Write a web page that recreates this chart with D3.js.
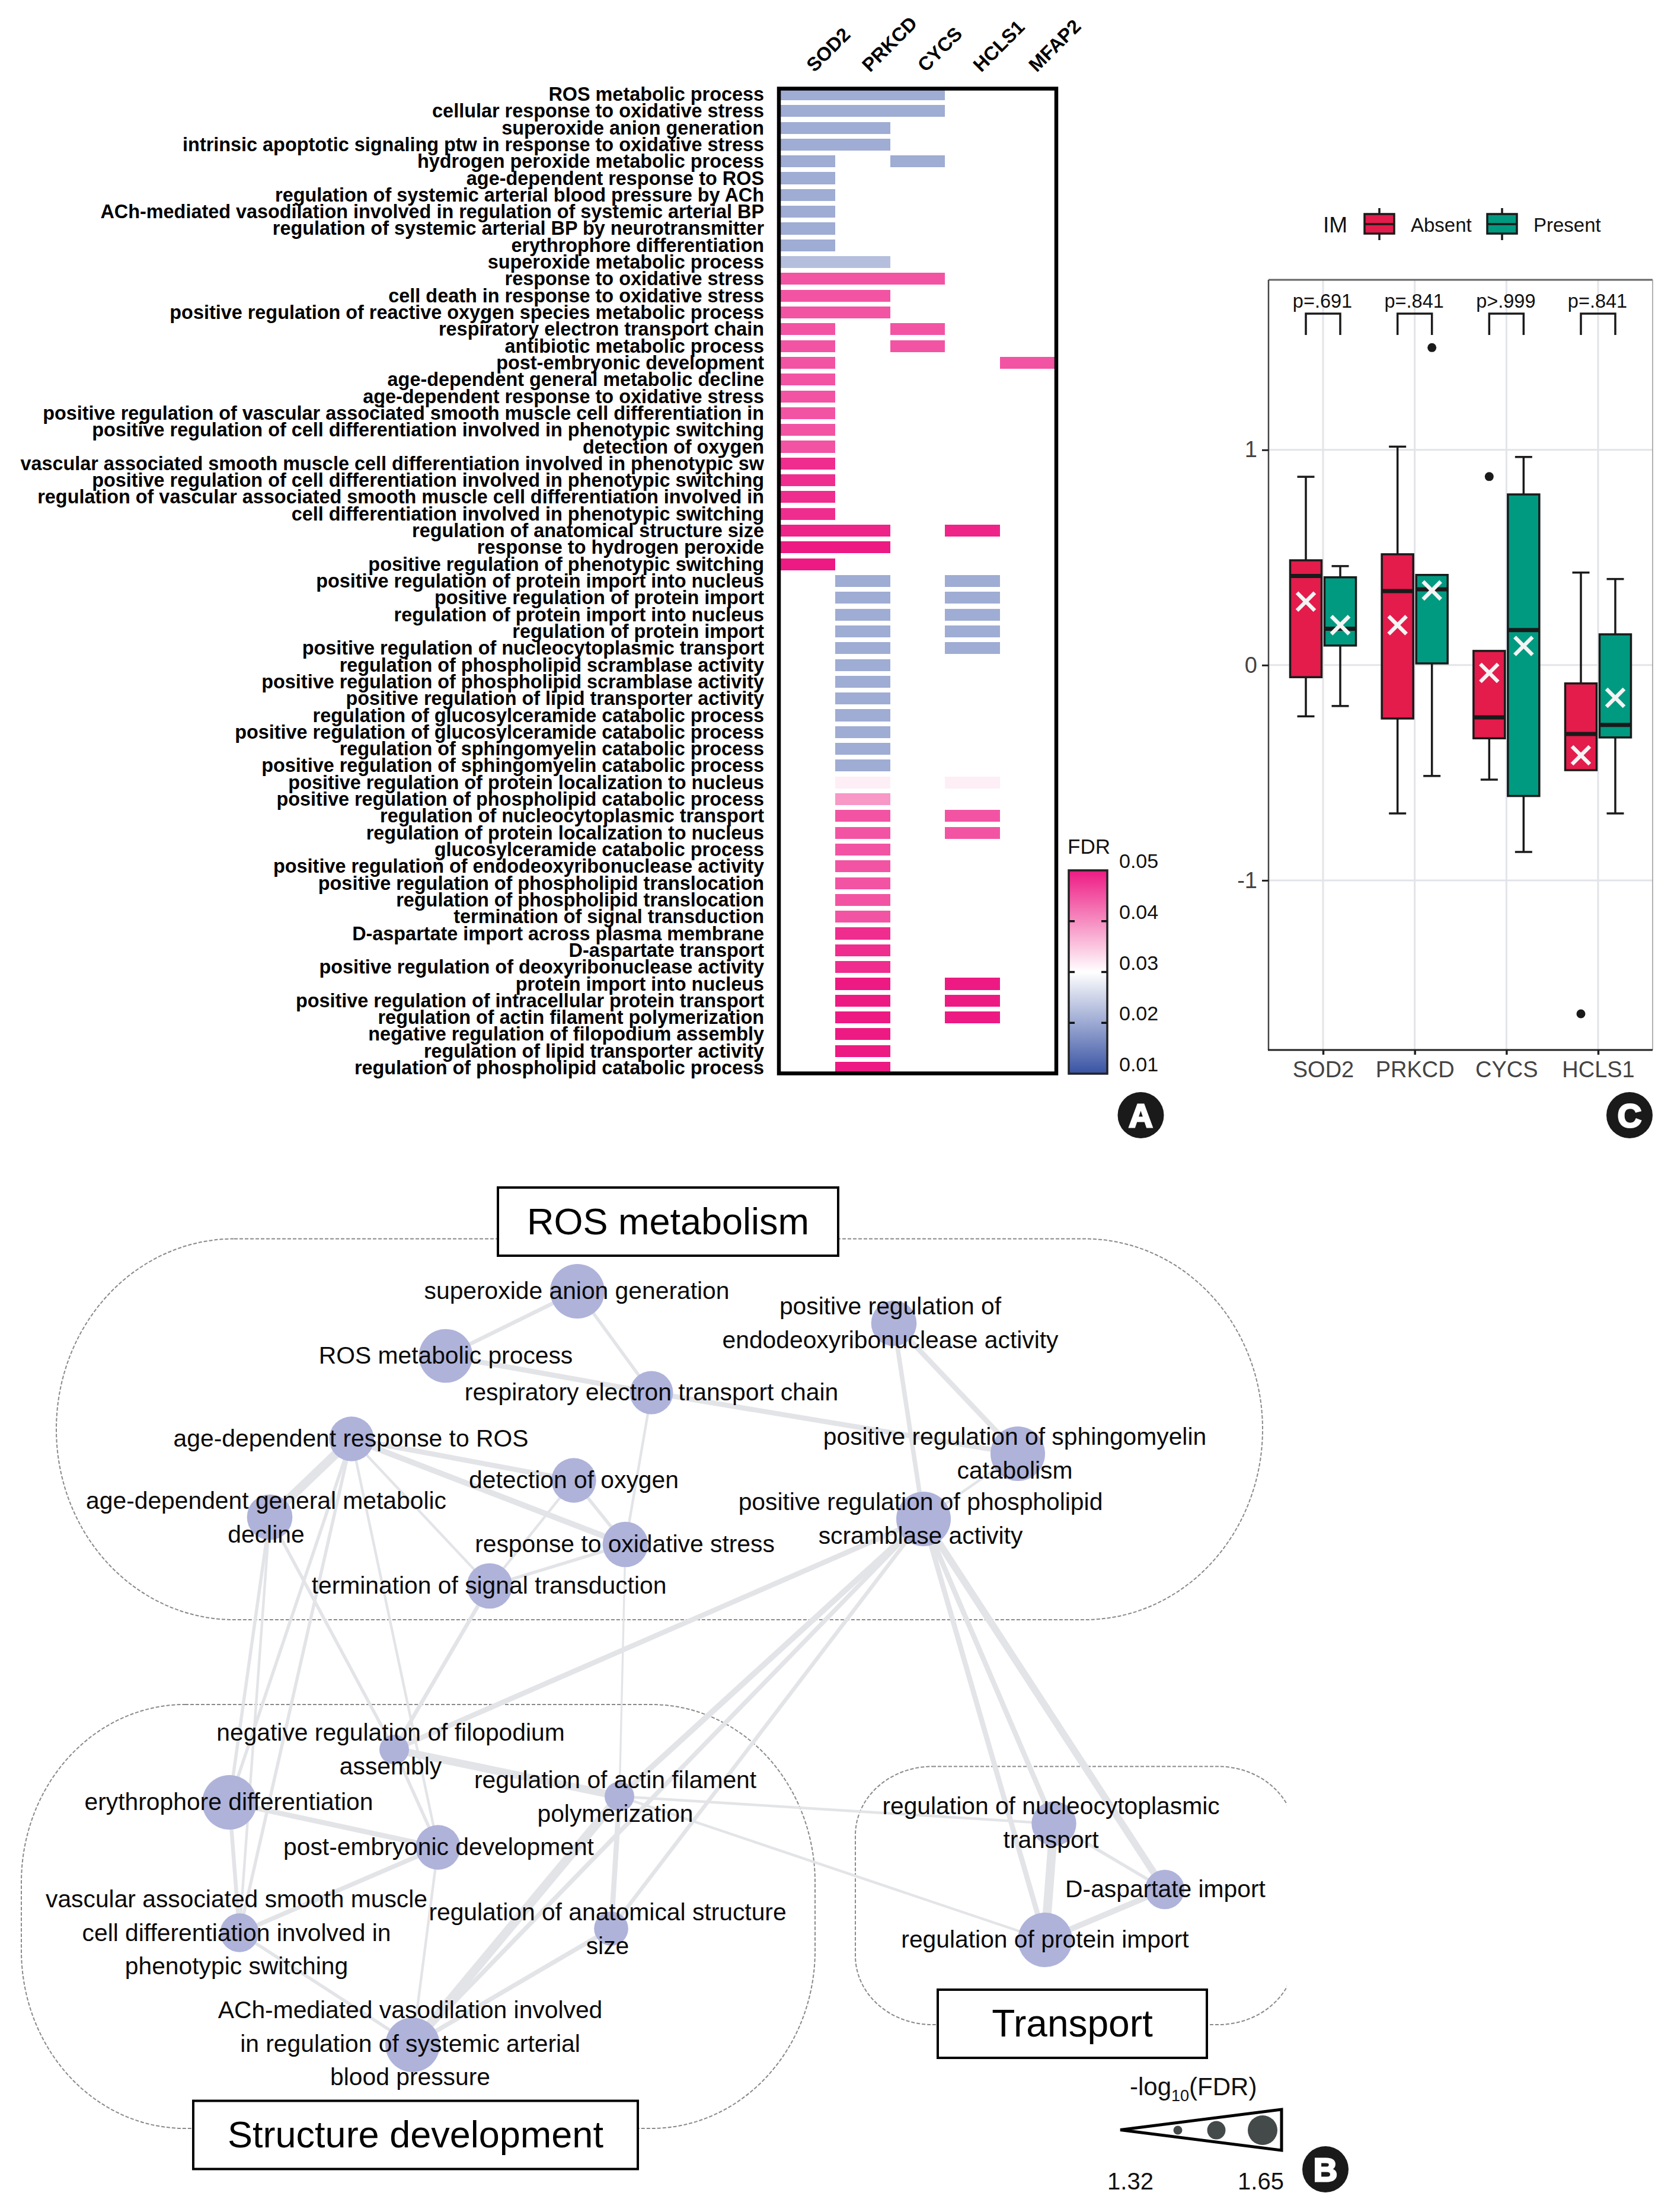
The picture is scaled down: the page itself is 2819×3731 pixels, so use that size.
<!DOCTYPE html>
<html><head><meta charset="utf-8">
<style>html,body{margin:0;padding:0;background:#fff}svg{display:block}text{font-family:"Liberation Sans",Arial,sans-serif}</style>
<script src="https://cdn.jsdelivr.net/npm/d3@7/dist/d3.min.js"></script>
</head><body><svg id="c" width="2819" height="3731" viewBox="0 0 2819 3731"></svg>
<script>
// ---------- Panel A data ----------
const genes = ["SOD2","PRKCD","CYCS","HCLS1","MFAP2"];
const terms = [
"ROS metabolic process","cellular response to oxidative stress","superoxide anion generation",
"intrinsic apoptotic signaling ptw in response to oxidative stress","hydrogen peroxide metabolic process",
"age-dependent response to ROS","regulation of systemic arterial blood pressure by ACh",
"ACh-mediated vasodilation involved in regulation of systemic arterial BP",
"regulation of systemic arterial BP by neurotransmitter","erythrophore differentiation",
"superoxide metabolic process","response to oxidative stress","cell death in response to oxidative stress",
"positive regulation of reactive oxygen species metabolic process","respiratory electron transport chain",
"antibiotic metabolic process","post-embryonic development","age-dependent general metabolic decline",
"age-dependent response to oxidative stress","positive regulation of vascular associated smooth muscle cell differentiation in",
"positive regulation of cell differentiation involved in phenotypic switching","detection of oxygen",
"vascular associated smooth muscle cell differentiation involved in phenotypic sw",
"positive regulation of cell differentiation involved in phenotypic switching",
"regulation of vascular associated smooth muscle cell differentiation involved in",
"cell differentiation involved in phenotypic switching","regulation of anatomical structure size",
"response to hydrogen peroxide","positive regulation of phenotypic switching",
"positive regulation of protein import into nucleus","positive regulation of protein import",
"regulation of protein import into nucleus","regulation of protein import",
"positive regulation of nucleocytoplasmic transport","regulation of phospholipid scramblase activity",
"positive regulation of phospholipid scramblase activity","positive regulation of lipid transporter activity",
"regulation of glucosylceramide catabolic process","positive regulation of glucosylceramide catabolic process",
"regulation of sphingomyelin catabolic process","positive regulation of sphingomyelin catabolic process",
"positive regulation of protein localization to nucleus","positive regulation of phospholipid catabolic process",
"regulation of nucleocytoplasmic transport","regulation of protein localization to nucleus",
"glucosylceramide catabolic process","positive regulation of endodeoxyribonuclease activity",
"positive regulation of phospholipid translocation","regulation of phospholipid translocation",
"termination of signal transduction","D-aspartate import across plasma membrane","D-aspartate transport",
"positive regulation of deoxyribonuclease activity","protein import into nucleus",
"positive regulation of intracellular protein transport","regulation of actin filament polymerization",
"negative regulation of filopodium assembly","regulation of lipid transporter activity",
"regulation of phospholipid catabolic process"];
const termFDR = [
.0203,.0203,.0203,.0203,.0203,.0203,.0203,.0203,.0203,.0203,.0225,
.0449,.0449,.0449,.0449,.0449,.0449,.0449,.0449,.0449,.0449,.0449,
.0483,.0483,.0483,.0483,.0491,.05,.05,
.0203,.0203,.0203,.0203,.0203,.0203,.0203,.0203,.0203,.0203,.0203,.0203,
.0315,.039,.0449,.0449,.0449,.0449,.0449,.0449,.0449,.0483,.0483,.0483,
.05,.05,.05,.05,.05,.05];
const termGeneCols = [
"SPC","SPC","SP","SP","SC","S","S","S","S","S","SP",
"SPC","SP","SP","SC","SC","SM","S","S","S","S","S","S","S","S","S","SPH","SP","S",
"PH","PH","PH","PH","PH","P","P","P","P","P","P","P",
"PH","P","PH","PH","P","P","P","P","P","P","P","P",
"PH","PH","PH","P","P","P"];
const geneCode = {S:"SOD2",P:"PRKCD",C:"CYCS",H:"HCLS1",M:"MFAP2"};
const fdrTicks = [0.05,0.04,0.03,0.02,0.01];

// ---------- Panel C data ----------
const boxGenes = ["SOD2","PRKCD","CYCS","HCLS1"];
const boxGroups = ["Absent","Present"];
const pLabels = ["p=.691","p=.841","p>.999","p=.841"];
const whiskerHigh = [[.875,.46],[1.015,.419],[.066,.967],[.43,.40]];
const q3Values = [[.487,.408],[.515,.419],[.066,.793],[-.085,.143]];
const medianValues = [[.414,.169],[.344,.352],[-.243,.163],[-.32,-.278]];
const meanValues = [[.295,.186],[.186,.347],[-.036,.089],[-.419,-.152]];
const q1Values = [[-.056,.091],[-.248,.008],[-.34,-.608],[-.488,-.336]];
const whiskerLow = [[-.238,-.19],[-.689,-.515],[-.532,-.868],[-.488,-.689]];
const outliers = [["PRKCD","Present",1.475],["CYCS","Absent",.876],["HCLS1","Absent",-1.62]];
const boxTicks = [-1,0,1];

// ---------- Panel B data ----------
const nodeNames = ["superoxide","ros","resp","ageros","detect","agegen","respox","term","endo","sphingo","scram",
"filo","eryth","actin","postemb","vasc","anat","ach","nucleo","dasp","protimp"];
const nodeLog = [1.65,1.64,1.5,1.52,1.52,1.53,1.53,1.53,1.53,1.65,1.65,1.32,1.65,1.32,1.52,1.44,1.38,1.65,1.52,1.45,1.65];
const edgeList = [
["superoxide","ros",6],["superoxide","resp",5],["ros","resp",8],["resp","sphingo",8],["resp","respox",4],["respox","actin",3],
["ageros","detect",8],["ageros","respox",9],["ageros","agegen",14],["ageros","term",4],["ageros","eryth",5],["ageros","vasc",5],["ageros","postemb",4],
["agegen","filo",5],["agegen","eryth",5],["agegen","vasc",4],["term","filo",6],["scram","filo",8],
["detect","respox",5],["detect","term",4],["respox","term",5],["endo","sphingo",8],["endo","scram",7],["sphingo","scram",4],
["scram","actin",9],["scram","ach",7],["scram","anat",6],["scram","protimp",8],["scram","nucleo",8],["scram","dasp",11],
["nucleo","protimp",14],["nucleo","dasp",5],["dasp","protimp",9],["actin","nucleo",4],["actin","protimp",4],["actin","ach",14],
["anat","ach",7],["anat","actin",8],["filo","actin",12],["filo","postemb",5],["eryth","postemb",8],["eryth","vasc",6],
["postemb","vasc",7],["postemb","ach",4],["vasc","ach",5]];
const nodeLabels = {
superoxide:["superoxide anion generation"],ros:["ROS metabolic process"],resp:["respiratory electron transport chain"],
ageros:["age-dependent response to ROS"],detect:["detection of oxygen"],agegen:["age-dependent general metabolic","decline"],
respox:["response to oxidative stress"],term:["termination of signal transduction"],
endo:["positive regulation of","endodeoxyribonuclease activity"],sphingo:["positive regulation of sphingomyelin","catabolism"],
scram:["positive regulation of phospholipid","scramblase activity"],filo:["negative regulation of filopodium","assembly"],
eryth:["erythrophore differentiation"],actin:["regulation of actin filament","polymerization"],postemb:["post-embryonic development"],
vasc:["vascular associated smooth muscle","cell differentiation involved in","phenotypic switching"],
anat:["regulation of anatomical structure","size"],ach:["ACh-mediated vasodilation involved","in regulation of systemic arterial","blood pressure"],
nucleo:["regulation of nucleocytoplasmic","transport"],dasp:["D-aspartate import"],protimp:["regulation of protein import"]};
const clusterTitles = ["ROS metabolism","Structure development","Transport"];
const sizeLegendValues = [1.32,1.47,1.65];

// ---------- Layout (not data) ----------
const nodeLayout = {superoxide:[974,2178],ros:[752,2287],resp:[1099,2349],ageros:[593,2427],detect:[968,2497],agegen:[455,2559],
respox:[1055,2605],term:[826,2675],endo:[1508,2232],sphingo:[1717,2452],scram:[1558,2562],filo:[665,2951],eryth:[387,3040],
actin:[1045,3030],postemb:[739,3116],vasc:[404,3260],anat:[1031,3253],ach:[696,3449],nucleo:[1778,3076],dasp:[1965,3187],protimp:[1763,3272]};
const labelLayout = {superoxide:[973,2177],ros:[752,2286],resp:[1099,2348],ageros:[592,2426],detect:[968,2496],agegen:[449,2531],
respox:[1054,2604],term:[825,2674],endo:[1502,2203],sphingo:[1712,2423],scram:[1553,2533],filo:[659,2922],eryth:[386,3039],
actin:[1038,3002],postemb:[740,3115],vasc:[399,3203],anat:[1025,3225],ach:[692,3390],nucleo:[1773,3046],dasp:[1966,3186],protimp:[1763,3271]};

const svg = d3.select("#c");
const FONT_A = 32.4, BLACK = "#000";

// ---------- Panel A ----------
const gA = svg.append("g");
const xA = d3.scaleBand().domain(genes).range([1317,1779]);
const xGeneLabel = d3.scalePoint().domain(genes).range([1374,1749]);
const yA = d3.scaleBand().domain(d3.range(terms.length)).range([144.8,1815.2]).paddingInner(0.29).paddingOuter(0.145);
const fdrColor = d3.scaleLinear().domain([.01,.03,.05]).range(["#3953a4","#ffffff","#ed1a83"]);

const cells = terms.flatMap((t,i)=>termGeneCols[i].split("").map(c=>({row:i,gene:geneCode[c],fdr:termFDR[i]})));
gA.selectAll("rect.cell").data(cells).join("rect").attr("class","cell")
  .attr("x",d=>xA(d.gene)).attr("width",xA.bandwidth()).attr("y",d=>yA(d.row)).attr("height",yA.bandwidth())
  .attr("fill",d=>fdrColor(d.fdr)).attr("shape-rendering","crispEdges");
gA.append("rect").attr("x",1314).attr("y",149.5).attr("width",468).attr("height",1661).attr("fill","none").attr("stroke",BLACK).attr("stroke-width",6.5);
gA.selectAll("text.term").data(terms).join("text").attr("class","term")
  .attr("x",1289).attr("y",(d,i)=>yA(i)+yA.bandwidth()/2).attr("dy",".34em").attr("text-anchor","end")
  .attr("font-size",FONT_A).attr("font-weight",700).attr("fill",BLACK).text(d=>d);
gA.selectAll("text.gene").data(genes).join("text").attr("class","gene")
  .attr("transform",d=>`translate(${xGeneLabel(d)},123) rotate(-45)`)
  .attr("font-size",32.5).attr("font-weight",700).attr("fill",BLACK).text(d=>d);

// colour bar
const yBar = d3.scaleLinear().domain([.05,.01]).range([1468,1811]);
const defs = svg.append("defs");
const grad = defs.append("linearGradient").attr("id","fdrGrad").attr("x1",0).attr("x2",0).attr("y1",0).attr("y2",1);
[.05,.04,.03,.02,.01].forEach(v=>grad.append("stop").attr("offset",(yBar(v)-1468)/343).attr("stop-color",fdrColor(v)));
gA.append("rect").attr("x",1803).attr("y",1468).attr("width",65).attr("height",343).attr("fill","url(#fdrGrad)").attr("stroke","#222").attr("stroke-width",3.5);
[.04,.03,.02].forEach(v=>{
  gA.append("line").attr("x1",1804).attr("x2",1813).attr("y1",yBar(v)).attr("y2",yBar(v)).attr("stroke","#111").attr("stroke-width",3.5);
  gA.append("line").attr("x1",1858).attr("x2",1867).attr("y1",yBar(v)).attr("y2",yBar(v)).attr("stroke","#111").attr("stroke-width",3.5);
});
gA.selectAll("text.fdrt").data(fdrTicks).join("text").attr("class","fdrt")
  .attr("x",1888).attr("y",d=>yBar(d)-16).attr("dy",".36em").attr("font-size",34).attr("fill","#111").text(d=>d.toFixed(2));
gA.append("text").attr("x",1801).attr("y",1427).attr("dy",".36em").attr("font-size",35).attr("fill","#111").text("FDR");

// badges
function badge(cx,cy,l){
  svg.append("circle").attr("cx",cx).attr("cy",cy).attr("r",39).attr("fill","#1a1a1a");
  svg.append("text").attr("x",cx).attr("y",cy).attr("dy",".36em").attr("text-anchor","middle").attr("font-size",56).attr("font-weight",700)
    .attr("fill","#fff").attr("stroke","#fff").attr("stroke-width",3).text(l);
}

// ---------- Panel C ----------
const gC = svg.append("g");
const xC = d3.scalePoint().domain(boxGenes).range([2232,2696]);
const groupOffset = d3.scalePoint().domain(boxGroups).range([-29,29]);
const yC = d3.scaleLinear().domain([-1.788,1.79]).range([1771,472]);
const boxColor = d3.scaleOrdinal().domain(boxGroups).range(["#e31c4b","#009a81"]);
const GRID = "#e3e4e9", BOXW = 53, CAP = 29;
boxTicks.forEach(t=>gC.append("line").attr("x1",2140).attr("x2",2788).attr("y1",yC(t)).attr("y2",yC(t)).attr("stroke",GRID).attr("stroke-width",3));
boxGenes.forEach(g=>gC.append("line").attr("x1",xC(g)).attr("x2",xC(g)).attr("y1",472).attr("y2",1771).attr("stroke",GRID).attr("stroke-width",3));
gC.append("line").attr("x1",2140).attr("x2",2788).attr("y1",472).attr("y2",472).attr("stroke","#666").attr("stroke-width",3);
gC.append("line").attr("x1",2788).attr("x2",2788).attr("y1",472).attr("y2",1771).attr("stroke","#999").attr("stroke-width",1.5);
gC.append("line").attr("x1",2140).attr("x2",2140).attr("y1",472).attr("y2",1771).attr("stroke","#444").attr("stroke-width",2.5);
gC.append("line").attr("x1",2139).attr("x2",2788).attr("y1",1771).attr("y2",1771).attr("stroke","#222").attr("stroke-width",3);

const axL = gC.append("g").attr("transform","translate(2140,0)").call(d3.axisLeft(yC).tickValues(boxTicks).tickFormat(d=>String(d).replace("\u2212","-")).tickSize(11).tickPadding(8));
axL.select(".domain").remove();
axL.selectAll("line").attr("stroke","#222").attr("stroke-width",3);
axL.selectAll("text").attr("font-size",38).attr("fill","#444").style("font-family",'"Liberation Sans"');
const axB = gC.append("g").attr("transform","translate(0,1771)").call(d3.axisBottom(xC).tickSize(8).tickPadding(11));
axB.select(".domain").remove();
axB.selectAll("line").attr("stroke","#222").attr("stroke-width",3.5);
axB.selectAll("text").attr("font-size",38).attr("fill","#444").style("font-family",'"Liberation Sans"');

boxGenes.forEach((g,i)=>boxGroups.forEach((k,j)=>{
  const cx = xC(g)+groupOffset(k);
  const s = gC.append("g").attr("stroke","#1a1a1a");
  s.append("line").attr("x1",cx).attr("x2",cx).attr("y1",yC(whiskerHigh[i][j])).attr("y2",yC(whiskerLow[i][j])).attr("stroke-width",3.5);
  if(whiskerHigh[i][j]>q3Values[i][j]) s.append("line").attr("x1",cx-CAP/2).attr("x2",cx+CAP/2).attr("y1",yC(whiskerHigh[i][j])).attr("y2",yC(whiskerHigh[i][j])).attr("stroke-width",3.5);
  if(whiskerLow[i][j]<q1Values[i][j]) s.append("line").attr("x1",cx-CAP/2).attr("x2",cx+CAP/2).attr("y1",yC(whiskerLow[i][j])).attr("y2",yC(whiskerLow[i][j])).attr("stroke-width",3.5);
  s.append("rect").attr("x",cx-BOXW/2).attr("width",BOXW).attr("y",yC(q3Values[i][j])).attr("height",yC(q1Values[i][j])-yC(q3Values[i][j])).attr("fill",boxColor(k)).attr("stroke-width",3.5);
  s.append("line").attr("x1",cx-BOXW/2).attr("x2",cx+BOXW/2).attr("y1",yC(medianValues[i][j])).attr("y2",yC(medianValues[i][j])).attr("stroke-width",7);
  const my = yC(meanValues[i][j]), h = 15;
  [[-1,-1,1,1],[-1,1,1,-1]].forEach(q=>gC.append("line").attr("x1",cx+q[0]*h).attr("y1",my+q[1]*h).attr("x2",cx+q[2]*h).attr("y2",my+q[3]*h).attr("stroke","#f4f4f4").attr("stroke-width",6.5));
}));
gC.selectAll("circle.out").data(outliers).join("circle").attr("class","out")
  .attr("cx",d=>xC(d[0])+groupOffset(d[1])).attr("cy",d=>yC(d[2])).attr("r",7.5).attr("fill","#1a1a1a");
boxGenes.forEach((g,i)=>{
  const l = xC(g)-29, r = xC(g)+29;
  gC.append("path").attr("d",d3.line()([[l,565],[l,529],[r,529],[r,565]])).attr("fill","none").attr("stroke","#1a1a1a").attr("stroke-width",3.5);
  gC.append("text").attr("x",xC(g)-1).attr("y",507).attr("dy",".36em").attr("text-anchor","middle").attr("font-size",32.5).attr("fill","#111").text(pLabels[i]);
});
// legend
gC.append("text").attr("x",2232).attr("y",379).attr("dy",".36em").attr("font-size",37).attr("fill","#111").text("IM");
[[2327,"Absent",2380],[2534,"Present",2587]].forEach(([cx,k,tx])=>{
  gC.append("line").attr("x1",cx).attr("x2",cx).attr("y1",351).attr("y2",405).attr("stroke","#1a1a1a").attr("stroke-width",3.5);
  gC.append("rect").attr("x",cx-25).attr("y",361).attr("width",50).attr("height",33).attr("fill",boxColor(k)).attr("stroke","#1a1a1a").attr("stroke-width",3.5);
  gC.append("line").attr("x1",cx-25).attr("x2",cx+25).attr("y1",378).attr("y2",378).attr("stroke","#1a1a1a").attr("stroke-width",3.5);
  gC.append("text").attr("x",tx).attr("y",379).attr("dy",".36em").attr("font-size",33).attr("fill","#111").text(k);
});

// ---------- Panel B ----------
const gB = svg.append("g");
const HULL = "#8a8a8a";
defs.append("clipPath").attr("id","trClip").append("rect").attr("x",1400).attr("y",2950).attr("width",771).attr("height",500);
[[95,2089.5,2035,642.5,300,321,null],[36,2875,1339,715,276,300,null],[1443,2979.5,742,435.5,130,116,"url(#trClip)"]].forEach(h=>{
  gB.append("rect").attr("x",h[0]).attr("y",h[1]).attr("width",h[2]).attr("height",h[3]).attr("rx",h[4]).attr("ry",h[5])
    .attr("fill","none").attr("stroke",HULL).attr("stroke-width",2).attr("stroke-dasharray","6 3").attr("clip-path",h[6]);
});
const rNode = d3.scaleLinear().domain([1.32,1.65]).range([25,46]);
const wEdge = d3.scaleLinear().domain([1,14]).range([1.2,15]);
gB.selectAll("line.edge").data(edgeList).join("line").attr("class","edge")
  .attr("x1",d=>nodeLayout[d[0]][0]).attr("y1",d=>nodeLayout[d[0]][1]).attr("x2",d=>nodeLayout[d[1]][0]).attr("y2",d=>nodeLayout[d[1]][1])
  .attr("stroke","#e3e4e7").attr("stroke-width",d=>wEdge(d[2]));
gB.selectAll("circle.node").data(nodeNames).join("circle").attr("class","node")
  .attr("cx",d=>nodeLayout[d][0]).attr("cy",d=>nodeLayout[d][1]).attr("r",(d,i)=>rNode(nodeLog[i])).attr("fill","#afb3da");
nodeNames.forEach(n=>{
  nodeLabels[n].forEach((line,i)=>{
    gB.append("text").attr("x",labelLayout[n][0]).attr("y",labelLayout[n][1]+i*56.5).attr("dy",".35em").attr("text-anchor","middle")
      .attr("font-size",40.8).attr("fill","#0a0a0a").text(line);
  });
});
// cluster titles
[[840,2003,574,115,63,clusterTitles[0]],[326,3543.5,750,115,63,clusterTitles[1]],[1582,3356,454,115,64,clusterTitles[2]]].forEach(b=>{
  gB.append("rect").attr("x",b[0]).attr("y",b[1]).attr("width",b[2]).attr("height",b[3]).attr("fill","#fff").attr("stroke","#000").attr("stroke-width",4);
  gB.append("text").attr("x",b[0]+b[2]/2).attr("y",b[1]+b[3]/2-1).attr("dy",".35em").attr("text-anchor","middle").attr("font-size",b[4]).attr("fill","#000").text(b[5]);
});
// size legend
const sizeX = d3.scaleLinear().domain([1.32,1.65]).range([1987,2130]);
const sizeR = d3.scaleLinear().domain([1.32,1.65]).range([7.5,25]);
gB.append("path").attr("d",d3.line()([[1890,3592.5],[2162,3558],[2162,3627]])+"Z").attr("fill","none").attr("stroke","#000").attr("stroke-width",5);
gB.selectAll("circle.sz").data(sizeLegendValues).join("circle").attr("class","sz").attr("cx",d=>sizeX(d)).attr("cy",3593).attr("r",d=>sizeR(d)).attr("fill","#444949");
const lg = gB.append("text").attr("x",1906).attr("y",3519).attr("dy",".36em").attr("font-size",42).attr("fill","#111");
lg.append("tspan").text("-log");
lg.append("tspan").attr("font-size",27).attr("dy",10).text("10");
lg.append("tspan").attr("dy",-10).text("(FDR)");
[[1907,"1.32"],[2127,"1.65"]].forEach(d=>gB.append("text").attr("x",d[0]).attr("y",3679).attr("dy",".36em").attr("text-anchor","middle").attr("font-size",40).attr("fill","#111").text(d[1]));

badge(1924.5,1881,"A");
badge(2236,3659,"B");
badge(2749,1881,"C");
</script></body></html>
